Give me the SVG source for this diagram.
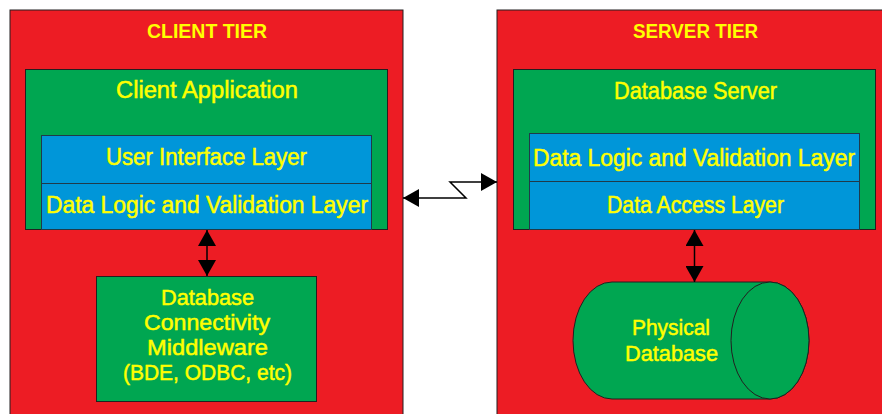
<svg xmlns="http://www.w3.org/2000/svg" width="882" height="414" viewBox="0 0 882 414">
<style>
.tier{fill:#ED1C24;stroke:#231F20;stroke-width:1}
.app{fill:#00A651;stroke:#231F20;stroke-width:1}
.layer{fill:#0096D9;stroke:#1F3A4A;stroke-width:1}
.t{font-family:"Liberation Sans",Arial,sans-serif;fill:#FFFF00;stroke:#FFFF00;stroke-width:0.5;text-anchor:middle}
.title{font-weight:bold;font-size:21px;stroke-width:0}
.m{font-size:23px}
.s{font-size:22px}
.conn{fill:none;stroke:#000;stroke-width:1.5}
</style>
<defs>
<marker id="ah" markerUnits="userSpaceOnUse" markerWidth="17" markerHeight="18" refX="16" refY="9" orient="auto-start-reverse">
<path d="M0,0 L16,9 L0,18 Z" fill="#000"/>
</marker>
</defs>
<g id="client-tier">
<rect class="tier" x="10" y="10" width="393" height="420"/>
<text class="t title" x="207" y="38" textLength="120" lengthAdjust="spacingAndGlyphs">CLIENT TIER</text>
</g>
<g id="server-tier">
<rect class="tier" x="497" y="10" width="400" height="420"/>
<text class="t title" x="695.5" y="38" textLength="125" lengthAdjust="spacingAndGlyphs">SERVER TIER</text>
</g>
<g id="client-application">
<rect class="app" x="25.5" y="69.5" width="362" height="160"/>
<text class="t m" x="207" y="98" textLength="182" lengthAdjust="spacingAndGlyphs">Client Application</text>
</g>
<g id="user-interface-layer">
<rect class="layer" x="41.5" y="135.5" width="330" height="48"/>
<text class="t m" x="206.5" y="165" textLength="201" lengthAdjust="spacingAndGlyphs">User Interface Layer</text>
</g>
<g id="client-data-logic-layer">
<rect class="layer" x="41.5" y="183.5" width="330" height="46"/>
<text class="t m" x="207" y="213" textLength="322" lengthAdjust="spacingAndGlyphs">Data Logic and Validation Layer</text>
</g>
<g id="database-server">
<rect class="app" x="513.5" y="69.5" width="362" height="160"/>
<text class="t m" x="695.5" y="99" textLength="163" lengthAdjust="spacingAndGlyphs">Database Server</text>
</g>
<g id="server-data-logic-layer">
<rect class="layer" x="529.5" y="133.5" width="330" height="48"/>
<text class="t m" x="694" y="166" textLength="322" lengthAdjust="spacingAndGlyphs">Data Logic and Validation Layer</text>
</g>
<g id="data-access-layer">
<rect class="layer" x="529.5" y="181.5" width="330" height="48"/>
<text class="t m" x="695.5" y="213" textLength="177" lengthAdjust="spacingAndGlyphs">Data Access Layer</text>
</g>
<g id="middleware">
<rect class="app" x="96.5" y="276.5" width="220" height="125"/>
<text class="t s" x="207.5" y="305" textLength="93" lengthAdjust="spacingAndGlyphs">Database</text>
<text class="t s" x="207" y="330" textLength="126" lengthAdjust="spacingAndGlyphs">Connectivity</text>
<text class="t s" x="207.5" y="355" textLength="121" lengthAdjust="spacingAndGlyphs">Middleware</text>
<text class="t s" x="207.5" y="380" textLength="169" lengthAdjust="spacingAndGlyphs">(BDE, ODBC, etc)</text>
</g>
<g id="physical-database">
<path class="app" d="M612,282 L770,282 A39,58.5 0 0 1 770,399 L612,399 A39,58.5 0 0 1 612,282 Z"/>
<ellipse class="app" cx="770" cy="340.5" rx="39" ry="58.5"/>
<text class="t s" x="671" y="335" textLength="78" lengthAdjust="spacingAndGlyphs">Physical</text>
<text class="t s" x="671.5" y="361" textLength="93" lengthAdjust="spacingAndGlyphs">Database</text>
</g>
<g id="connectors">
<line class="conn" x1="207" y1="230" x2="207" y2="276" marker-start="url(#ah)" marker-end="url(#ah)"/>
<line class="conn" x1="694.5" y1="230" x2="694.5" y2="282" marker-start="url(#ah)" marker-end="url(#ah)"/>
<path class="conn" d="M403,198 L466,198 L450,182 L497,182" marker-start="url(#ah)" marker-end="url(#ah)"/>
</g>
</svg>
